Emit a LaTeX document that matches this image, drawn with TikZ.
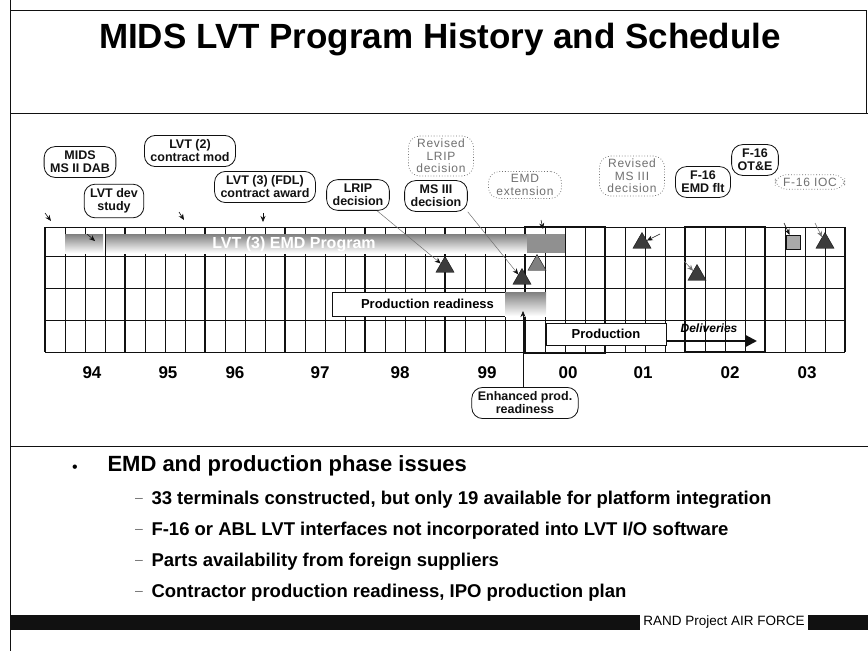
\documentclass[tikz,border=0pt]{standalone}
\usepackage{fontspec}
\setmainfont{Liberation Sans}
\newfontfamily\planfont[LetterSpace=6]{Liberation Sans}
\usepackage{tikz}
\usetikzlibrary{positioning,shapes.geometric,arrows.meta}
\definecolor{ink}{HTML}{111111}
\definecolor{shade}{HTML}{A9A9A9}
\definecolor{faint}{HTML}{707070}
\definecolor{dark}{HTML}{3C3C3C}

\begin{document}
\begin{tikzpicture}[x=1pt, y=-1pt,
  callout/.style={rounded corners=11pt, draw=ink, line width=0.8pt, fill=white,
                  align=center, inner xsep=6pt, inner ysep=4.5pt,
                  font=\bfseries\fontsize{12.5}{13}\selectfont, text=ink},
  plan/.style={callout, draw=faint, dotted, line width=0.7pt, text=faint,
               inner xsep=8pt, inner ysep=3pt,
               font=\planfont\fontsize{12}{12.5}\selectfont},
  mile/.style={regular polygon, regular polygon sides=3, minimum size=21pt,
               inner sep=0pt, fill=dark, draw=ink, line width=0.4pt},
  tick/.style={-{Stealth[length=6pt, width=5pt]}, ink, line width=0.6pt},
  leader/.style={-{Stealth[length=6pt, width=5pt, color=ink]}, faint, line width=0.5pt},
  cell/.style={ink, line width=0.8pt},
  phase/.style={draw=ink, line width=0.7pt, fill=white, inner sep=0pt,
                font=\bfseries\fontsize{13}{14}\selectfont},
  year/.style={font=\bfseries\fontsize{17}{17}\selectfont},
  issue/.style={anchor=west, font=\bfseries\fontsize{18.5}{21}\selectfont}
]
\useasboundingbox (0,0) rectangle (868,651);

% --- Frame and title ---
\draw[ink, line width=1pt] (10,0) -- (10,651);
\draw[ink, line width=0.8pt] (10,10) -- (866,10) -- (866,113);
\draw[ink, line width=1pt] (10,113) -- (868,113);
\draw[ink, line width=1pt] (10,446) -- (868,446);
\node[font=\bfseries\fontsize{35}{37}\selectfont] (head) at (440,40) {MIDS LVT Program History and Schedule};

% --- Grid ---
\foreach \k in {0,...,40}
  \draw[cell] (45+20*\k,227) -- (45+20*\k,352);
\foreach \k in {0,4,...,40}
  \draw[cell, line width=1.1pt] (45+20*\k,227) -- (45+20*\k,352);
\foreach \y in {227,256,288,320,352}
  \draw[cell] (45,\y) -- (845,\y);
\draw[ink, line width=1.4pt] (525,227) rectangle (605,353);
\draw[ink, line width=1.4pt] (685,227) rectangle (765,352);
\foreach \yr/\x in {94/92, 95/168, 96/235, 97/320, 98/400, 99/487, 00/568, 01/643, 02/730, 03/807}
  \node[year] (y\yr) at (\x,373) {\yr};

% --- EMD bar ---
\fill[shade] (65,234) rectangle (103,253);
\fill[shade] (106,234) rectangle (527,253);
\fill[shade!85!black] (527,234) rectangle (565,253);
\node[font=\bfseries\fontsize{16}{17}\selectfont, text=white] (emd) at (294,244) {LVT (3) EMD Program};

% --- Phases ---
\node[phase, minimum width=173pt, minimum height=24pt] (ready) at (418.5,304) {\hspace{18pt}Production readiness};
\fill[shade] (505,292) rectangle (546,316);
\node[phase, minimum width=120pt, minimum height=22pt] (prod) at (606,334) {Production};
\coordinate (dlvend) at (757,341);
\draw[ink, line width=2.4pt, -{Triangle[length=12pt, width=12pt]}] (prod.east |- dlvend) -- (dlvend);
\node[font=\bfseries\itshape\fontsize{12}{13}\selectfont] (dlv) at (709,328) {Deliveries};

% --- Milestones ---
\node[mile] (m1) at (445,267) {};
\node[mile] (m2) at (522,279) {};
\node[mile, fill=gray] (m3) at (537,265) {};
\node[mile] (m4) at (642,243) {};
\node[mile] (m5) at (697,275) {};
\node[mile] (m6) at (825,243) {};
\node[draw=ink, fill=shade, minimum size=14pt, inner sep=0pt] (s1) at (793,242) {};

% --- Callouts ---
\node[callout] (dab) at (80,162) {MIDS\\MS II DAB};
\node[callout] (study) at (114,201) {LVT dev\\study};
\node[callout] (mod) at (190,151) {LVT (2)\\contract mod};
\node[callout] (award) at (265,187) {LVT (3) (FDL)\\contract award};
\node[callout] (lrip) at (358,195) {LRIP\\decision};
\node[callout] (ms3) at (436,196) {MS III\\decision};
\node[plan] (rlrip) at (441,156) {Revised\\LRIP\\decision};
\node[plan] (ext) at (525,185) {EMD\\extension};
\node[plan] (rms3) at (632,176) {Revised\\MS III\\decision};
\node[callout] (ote) at (755,160) {F-16\\OT\&E};
\node[callout] (flt) at (703,182) {F-16\\EMD flt};
\node[plan] (ioc) at (810,182) {F-16 IOC};
\node[callout] (enh) at (525,403) {Enhanced prod.\\readiness};

% --- Pointers ---
\foreach \n/\a/\b in {dab/{45,213}/{51,221}, mod/{179,212}/{184,220},
                      award/{263,213}/{263,222}, study/{87,234}/{95,241},
                      ext/{541,220}/{543,229}} {
  \coordinate (\n tail) at (\a);
  \coordinate (\n head) at (\b);
  \draw[tick] (\n tail) -- (\n head);
}
\draw[leader] (lrip) -- (m1);
\draw[leader] (ms3.south east) -- (m2);
\coordinate (rms3tail) at (660,234);
\draw[tick] (rms3tail) -- (m4);
\coordinate (flttail) at (684,261);
\draw[tick, faint] (flttail) -- (m5);
\coordinate (otetail) at (784,223);
\draw[tick] (otetail) -- (s1);
\coordinate (ioctail) at (815,223);
\draw[tick, faint] (ioctail) -- (m6);
\coordinate (enhhead) at (523,311);
\draw[tick] (enh.north -| enhhead) -- (enhhead);

% --- Issues ---
\node[font=\fontsize{16}{17}\selectfont] (dot) at (75,469) {•};
\node[issue, font=\bfseries\fontsize{22}{24}\selectfont] (topic) at (104,466) {EMD and production phase issues};
\foreach \i/\y/\t in {1/500/{33 terminals constructed, but only 19 available for platform integration},
                      2/531/{F-16 or ABL LVT interfaces not incorporated into LVT I/O software},
                      3/562/{Parts availability from foreign suppliers},
                      4/593/{Contractor production readiness, IPO production plan}} {
  \node[text=faint, font=\fontsize{14}{15}\selectfont] (dash\i) at (139,\y) {--};
  \node[issue] (issue\i) at (148,\y) {\t};
}

% --- Footer ---
\fill[ink] (10,615) rectangle (868,630);
\node[fill=white, inner xsep=3pt, inner ysep=0pt, minimum height=17pt,
      font=\fontsize{13.5}{14}\selectfont] (rand) at (724,622) {RAND Project AIR FORCE};

\end{tikzpicture}
\end{document}
